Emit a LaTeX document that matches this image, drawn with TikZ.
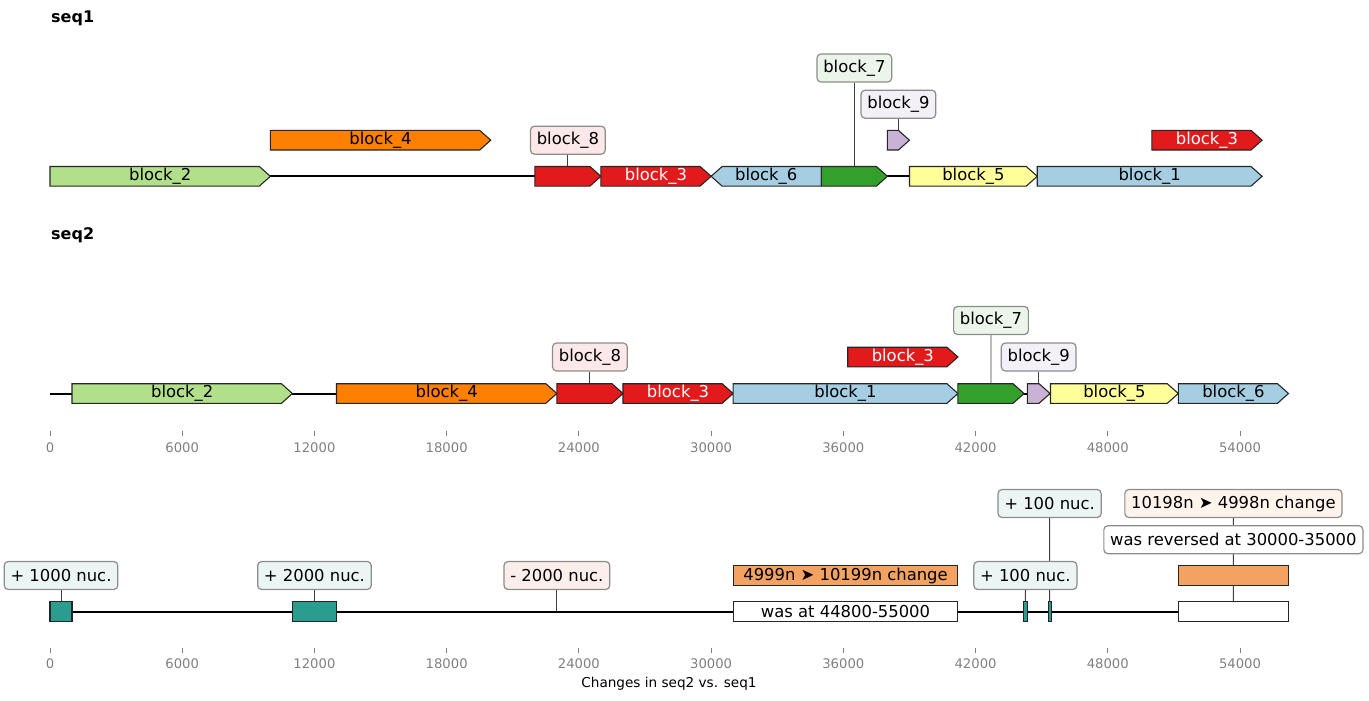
\documentclass[tikz,border=0pt]{standalone}
\usepackage{fontspec}
\setmainfont{DejaVu Sans}
\pgfdeclarelayer{bg}
\pgfsetlayers{bg,main}
\definecolor{cB2}{HTML}{B2DF8A}
\definecolor{cB4}{HTML}{FF7F00}
\definecolor{cRed}{HTML}{E31A1C}
\definecolor{cBlue}{HTML}{A6CEE3}
\definecolor{cGreen}{HTML}{33A02C}
\definecolor{cPurp}{HTML}{CAB2D6}
\definecolor{cYel}{HTML}{FFFF99}
\definecolor{cTeal}{HTML}{2A9D8F}
\definecolor{cOrg}{HTML}{F4A261}
\definecolor{cDel}{HTML}{E76F51}
\definecolor{axgray}{HTML}{808080}
\definecolor{boxedge}{HTML}{8C8C8C}
\tikzset{
  featline/.style={draw=black!85, line width=1.1pt, line join=miter},
  thinfeat/.style={line width=0.7pt},
  ftext/.style={inner sep=0pt, font=\fontsize{16.4}{19}\selectfont},
  lbox/.style={draw=boxedge, line width=1.2pt, rounded corners=4pt, inner xsep=6.3pt, inner ysep=0pt, minimum height=28pt, font=\fontsize{16.4}{19}\selectfont},
  leader/.style={draw=black!75, line width=0.9pt},
  backbone/.style={draw=black, line width=2pt},
  tickmark/.style={draw=axgray, line width=0.9pt},
  ticklabel/.style={text=axgray, inner sep=0pt, font=\fontsize{13.2}{15}\selectfont},
  title/.style={anchor=west, inner sep=0pt, font=\fontsize{16}{19}\selectfont\bfseries}
}
% positions are given in thousands of nucleotides
\newcommand\fwdfeat[7]{%
  \pgfmathsetmacro\xa{X(#2)}\pgfmathsetmacro\xb{X(#3)}\pgfmathsetmacro\hd{min(11,\xb-\xa)}%
  \draw[featline,fill=#5] (\xa,#4-9.8) -- (\xb-\hd,#4-9.8) -- (\xb,#4) -- (\xb-\hd,#4+9.8) -- (\xa,#4+9.8) -- cycle;
  \coordinate (#1-n) at ({(\xa+\xb)/2},#4-9.8);
  \node[ftext,text=#7] (#1) at ({(\xa+\xb)/2},#4) {#6};}
\newcommand\revfeat[7]{%
  \pgfmathsetmacro\xa{X(#2)}\pgfmathsetmacro\xb{X(#3)}\pgfmathsetmacro\hd{min(11,\xb-\xa)}%
  \draw[featline,fill=#5] (\xa,#4) -- (\xa+\hd,#4-9.8) -- (\xb,#4-9.8) -- (\xb,#4+9.8) -- (\xa+\hd,#4+9.8) -- cycle;
  \coordinate (#1-n) at ({(\xa+\xb)/2},#4-9.8);
  \node[ftext,text=#7] (#1) at ({(\xa+\xb)/2},#4) {#6};}
\newcommand\boxfeat[8][]{%
  \pgfmathsetmacro\xa{X(#3)}\pgfmathsetmacro\xb{X(#4)}%
  \draw[featline,fill=#6,#1] (\xa,#5-9.8) rectangle (\xb,#5+9.8);
  \coordinate (#2-n) at ({(\xa+\xb)/2},#5-9.8);
  \node[ftext,text=#8] (#2) at ({(\xa+\xb)/2},#5) {#7};}
\begin{document}
\begin{tikzpicture}[x=1pt,y=-1pt,declare function={X(\v)=50+\v*22.037;}]
\useasboundingbox (0,0) rectangle (1369,701);

% ---------------- seq1 ----------------
\node[title] (t1) at (51,18) {seq1};
\coordinate (s1L) at (50,176.3);
\coordinate (s1R) at ({X(55)},176.3);
\draw[backbone] (s1L) -- (s1R);
\fwdfeat{s1b2}{0}{10}{176.3}{cB2}{block\_2}{black}
\fwdfeat{s1b4}{10}{20}{140.2}{cB4}{block\_4}{black}
\fwdfeat{s1b8}{22}{25}{176.3}{cRed}{}{black}
\fwdfeat{s1b3}{25}{30}{176.3}{cRed}{block\_3}{white}
\revfeat{s1b6}{30}{35}{176.3}{cBlue}{block\_6}{black}
\fwdfeat{s1b7}{35}{38}{176.3}{cGreen}{}{black}
\fwdfeat{s1b9}{38}{39}{140.2}{cPurp}{}{black}
\fwdfeat{s1b5}{39}{44.8}{176.3}{cYel}{block\_5}{black}
\fwdfeat{s1b1}{44.8}{55}{176.3}{cBlue}{block\_1}{black}
\fwdfeat{s1b3b}{50}{55}{140.2}{cRed}{block\_3}{white}
\node[lbox,fill=cRed!10] (s1l8) at ({X(23.5)},140.2) {block\_8};
\node[lbox,fill=cGreen!10] (s1l7) at ({X(36.5)},68) {block\_7};
\node[lbox,fill=cPurp!20] (s1l9) at ({X(38.5)},104.2) {block\_9};
\begin{pgfonlayer}{bg}
\draw[leader] (s1l8.south) -- (s1b8-n);
\draw[leader] (s1l7.south) -- (s1b7-n);
\draw[leader] (s1l9.south) -- (s1b9-n);
\end{pgfonlayer}

% ---------------- seq2 ----------------
\node[title] (t2) at (51,235) {seq2};
\coordinate (s2L) at (50,393.5);
\coordinate (s2R) at ({X(56.2)},393.5);
\draw[backbone] (s2L) -- (s2R);
\fwdfeat{s2b2}{1}{11}{393.5}{cB2}{block\_2}{black}
\fwdfeat{s2b4}{13}{23}{393.5}{cB4}{block\_4}{black}
\fwdfeat{s2b8}{23}{26}{393.5}{cRed}{}{black}
\fwdfeat{s2b3}{26}{31}{393.5}{cRed}{block\_3}{white}
\fwdfeat{s2b1}{31}{41.2}{393.5}{cBlue}{block\_1}{black}
\fwdfeat{s2b3b}{36.2}{41.2}{357}{cRed}{block\_3}{white}
\fwdfeat{s2b7}{41.2}{44.2}{393.5}{cGreen}{}{black}
\fwdfeat{s2b9}{44.35}{45.38}{393.5}{cPurp}{}{black}
\fwdfeat{s2b5}{45.4}{51.2}{393.5}{cYel}{block\_5}{black}
\fwdfeat{s2b6}{51.2}{56.2}{393.5}{cBlue}{block\_6}{black}
\node[lbox,fill=cRed!10] (s2l8) at ({X(24.5)},357) {block\_8};
\node[lbox,fill=cGreen!10] (s2l7) at ({X(42.7)},320.5) {block\_7};
\node[lbox,fill=cPurp!20] (s2l9) at ({X(44.865)},357) {block\_9};
\begin{pgfonlayer}{bg}
\draw[leader] (s2l8.south) -- (s2b8-n);
\draw[leader] (s2l7.south) -- (s2b7-n);
\draw[leader] (s2l9.south) -- (s2b9-n);
\end{pgfonlayer}
\foreach \v/\t in {0/0,6/6000,12/12000,18/18000,24/24000,30/30000,36/36000,42/42000,48/48000,54/54000}{
  \coordinate (ta\v) at ({X(\v)},430.7);
  \coordinate (tb\v) at ({X(\v)},436);
  \draw[tickmark] (ta\v) -- (tb\v);
  \node[ticklabel] (tl\v) at ({X(\v)},447.7) {\t};
}

% ---------------- changes ----------------
\coordinate (cL) at (50,611.5);
\coordinate (cR) at ({X(56.2)},611.5);
\draw[backbone] (cL) -- (cR);
\coordinate (cdel) at ({X(23)},611.5);
\boxfeat{c1}{0}{1}{611.5}{cTeal}{}{black}
\boxfeat{c2}{11}{13}{611.5}{cTeal}{}{black}
\boxfeat{c3}{31}{41.2}{611.5}{white}{was at 44800-55000}{black}
\boxfeat{c4}{31}{41.2}{575.5}{cOrg}{4999n ➤ 10199n change}{black}
\boxfeat[thinfeat]{c5}{44.19}{44.33}{611.5}{cTeal}{}{black}
\boxfeat[thinfeat]{c6}{45.29}{45.43}{611.5}{cTeal}{}{black}
\boxfeat{c7}{51.2}{56.2}{611.5}{white}{}{black}
\boxfeat{c8}{51.2}{56.2}{575.5}{cOrg}{}{black}
\node[lbox,fill=cTeal!10] (cl1) at ({X(0.5)},575.5) {+ 1000 nuc.};
\node[lbox,fill=cTeal!10] (cl2) at ({X(12)},575.5) {+ 2000 nuc.};
\node[lbox,fill=cDel!12] (cl3) at ({X(23)},575.5) {- 2000 nuc.};
\node[lbox,fill=cTeal!10] (cl5) at ({X(44.26)},575.5) {+ 100 nuc.};
\node[lbox,fill=cTeal!10] (cl6) at ({X(45.36)},503.5) {+ 100 nuc.};
\node[lbox,fill=cOrg!12] (cl8) at ({X(53.7)},503.5) {10198n ➤ 4998n change};
\node[lbox,fill=white] (cl7) at ({X(53.7)},539.7) {was reversed at 30000-35000};
\begin{pgfonlayer}{bg}
\draw[leader] (cl1.south) -- (c1-n);
\draw[leader] (cl2.south) -- (c2-n);
\draw[leader] (cl3.south) -- (cdel);
\draw[leader] (cl5.south) -- (c5-n);
\draw[leader] (cl6.south) -- (c6-n);
\draw[leader] (cl8.south) -- (c7-n);
\end{pgfonlayer}
\foreach \v/\t in {0/0,6/6000,12/12000,18/18000,24/24000,30/30000,36/36000,42/42000,48/48000,54/54000}{
  \coordinate (ua\v) at ({X(\v)},648.3);
  \coordinate (ub\v) at ({X(\v)},653.3);
  \draw[tickmark] (ua\v) -- (ub\v);
  \node[ticklabel] (ul\v) at ({X(\v)},664) {\t};
}
\node[inner sep=0pt, font=\fontsize{13.6}{16}\selectfont] (xl) at (669,684) {Changes in seq2 vs. seq1};
\end{tikzpicture}
\end{document}
